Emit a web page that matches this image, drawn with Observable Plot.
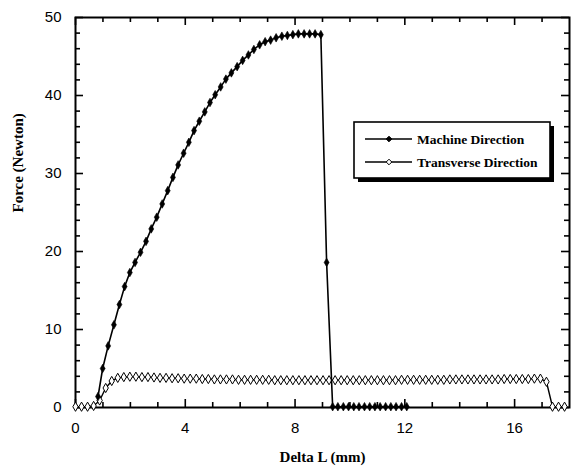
<!DOCTYPE html>
<html>
<head>
<meta charset="utf-8">
<script src="https://cdn.jsdelivr.net/npm/d3@7"></script>
<script src="https://cdn.jsdelivr.net/npm/@observablehq/plot@0.6"></script>
<style>
  html, body { margin: 0; padding: 0; background: white; }
  #chart { width: 571px; height: 472px; }
</style>
</head>
<body>
<div id="chart"></div>
<script>
// Machine Direction (filled diamonds)
const machineX = [0.82, 0.99, 1.19, 1.40, 1.60, 1.79, 1.98, 2.17, 2.37, 2.57, 2.76, 2.96, 3.16, 3.36, 3.55, 3.74, 3.94, 4.13, 4.32, 4.51, 4.71, 4.90, 5.09, 5.29, 5.48, 5.68, 5.89, 6.09, 6.30, 6.50, 6.71, 6.91, 7.11, 7.31, 7.52, 7.72, 7.92, 8.12, 8.33, 8.53, 8.73, 8.94, 9.15, 9.37, 9.56, 9.76, 9.95, 10.14, 10.33, 10.53, 10.72, 10.91, 11.10, 11.30, 11.49, 11.68, 11.88, 12.07];
const machineY = [1.4, 5.0, 7.9, 10.6, 13.2, 15.5, 17.3, 18.6, 19.9, 21.3, 22.9, 24.4, 26.1, 27.8, 29.5, 31.1, 32.6, 34.0, 35.5, 36.7, 37.9, 39.1, 40.1, 41.1, 42.1, 42.9, 43.7, 44.5, 45.2, 45.9, 46.5, 46.9, 47.1, 47.4, 47.6, 47.7, 47.8, 47.9, 47.9, 47.9, 47.9, 47.8, 18.6, 0.1, 0.1, 0.1, 0.1, 0.1, 0.1, 0.1, 0.1, 0.1, 0.1, 0.1, 0.1, 0.1, 0.1, 0.1];

// Transverse Direction (open diamonds)
const transX = [0.00, 0.22, 0.44, 0.66, 0.88, 1.10, 1.32, 1.54, 1.76, 1.98, 2.20, 2.42, 2.64, 2.86, 3.08, 3.30, 3.52, 3.74, 3.96, 4.18, 4.40, 4.62, 4.84, 5.06, 5.28, 5.50, 5.72, 5.94, 6.16, 6.38, 6.60, 6.82, 7.04, 7.26, 7.48, 7.70, 7.92, 8.14, 8.36, 8.58, 8.80, 9.02, 9.24, 9.46, 9.68, 9.90, 10.12, 10.34, 10.56, 10.78, 11.00, 11.22, 11.44, 11.66, 11.88, 12.10, 12.32, 12.54, 12.76, 12.98, 13.20, 13.42, 13.64, 13.86, 14.08, 14.30, 14.52, 14.74, 14.96, 15.18, 15.40, 15.62, 15.84, 16.06, 16.28, 16.50, 16.72, 16.94, 17.16, 17.38, 17.60, 17.82];
const transY = [0.1, 0.1, 0.1, 0.2, 0.9, 2.5, 3.4, 3.8, 3.9, 3.95, 3.95, 3.9, 3.9, 3.85, 3.8, 3.8, 3.75, 3.75, 3.7, 3.7, 3.7, 3.65, 3.65, 3.6, 3.6, 3.6, 3.6, 3.55, 3.55, 3.55, 3.55, 3.55, 3.55, 3.5, 3.5, 3.5, 3.5, 3.5, 3.5, 3.5, 3.5, 3.5, 3.5, 3.5, 3.5, 3.5, 3.5, 3.5, 3.5, 3.5, 3.5, 3.5, 3.5, 3.5, 3.55, 3.55, 3.55, 3.55, 3.55, 3.55, 3.55, 3.55, 3.6, 3.6, 3.6, 3.6, 3.6, 3.6, 3.6, 3.6, 3.6, 3.65, 3.65, 3.65, 3.65, 3.65, 3.7, 3.7, 3.3, 0.1, 0.1, 0.1];

// Axis ticks
const xTickLabels = [0, 4, 8, 12, 16];
const xMinorTicks = [1, 2, 3, 5, 6, 7, 9, 10, 11, 13, 14, 15, 17];
const yTickLabels = [0, 10, 20, 30, 40, 50];
const yMinorTicks = [2, 4, 6, 8, 12, 14, 16, 18, 22, 24, 26, 28, 32, 34, 36, 38, 42, 44, 46, 48];

const seriesNames = ["Machine Direction", "Transverse Direction"];

const machine = machineX.map((x, i) => ({x, y: machineY[i]}));
const trans = transX.map((x, i) => ({x, y: transY[i]}));

const W = 571, H = 472;
const mL = 75, mR = 2, mT = 17, mB = 65;
const PH = H - mT - mB, PW = W - mL - mR;
const major = 8, minor = 5;
const serif = "'Liberation Serif', 'Times New Roman', serif";

const chart = Plot.plot({
  width: W, height: H,
  marginLeft: mL, marginRight: mR, marginTop: mT, marginBottom: mB,
  x: {domain: [0, 18]},
  y: {domain: [0, 50]},
  style: {background: "white", color: "black", fontFamily: "'Liberation Sans', Arial, sans-serif", fontSize: "15px"},
  marks: [
    // inward ticks on all four sides
    Plot.tickX(xTickLabels, {x: d => d, insetTop: PH - major, stroke: "black", strokeWidth: 1.6}),
    Plot.tickX(xMinorTicks, {x: d => d, insetTop: PH - minor, stroke: "black", strokeWidth: 1.6}),
    Plot.tickX(xTickLabels, {x: d => d, insetBottom: PH - major, stroke: "black", strokeWidth: 1.6}),
    Plot.tickX(xMinorTicks, {x: d => d, insetBottom: PH - minor, stroke: "black", strokeWidth: 1.6}),
    Plot.tickY(yTickLabels, {y: d => d, insetRight: PW - major, stroke: "black", strokeWidth: 1.6}),
    Plot.tickY(yMinorTicks, {y: d => d, insetRight: PW - minor, stroke: "black", strokeWidth: 1.6}),
    Plot.tickY(yTickLabels, {y: d => d, insetLeft: PW - major, stroke: "black", strokeWidth: 1.6}),
    Plot.tickY(yMinorTicks, {y: d => d, insetLeft: PW - minor, stroke: "black", strokeWidth: 1.6}),
    Plot.axisX(xTickLabels, {tickSize: 0, tickPadding: 15, label: null, fontSize: 15}),
    Plot.axisY(yTickLabels, {tickSize: 0, tickPadding: 14, label: null, fontSize: 15}),
    Plot.frame({stroke: "black", strokeWidth: 2}),
    Plot.line(trans, {x: "x", y: "y", stroke: "black", strokeWidth: 1.4}),
    Plot.dot(trans, {x: "x", y: "y", symbol: "diamond", r: 2.8, fill: "white", stroke: "black", strokeWidth: 1}),
    Plot.line(machine, {x: "x", y: "y", stroke: "black", strokeWidth: 1.6}),
    Plot.dot(machine, {x: "x", y: "y", symbol: "diamond", r: 2.6, fill: "black", stroke: "black", strokeWidth: 0.6}),
    Plot.text(["Force (Newton)"], {frameAnchor: "left", dx: -57, rotate: -90, fontFamily: serif, fontWeight: "bold", fontSize: 15}),
    Plot.text(["Delta L (mm)"], {frameAnchor: "bottom", dy: 54, fontFamily: serif, fontWeight: "bold", fontSize: 15})
  ]
});

document.getElementById("chart").appendChild(chart);

// Legend with drop shadow
const svg = d3.select(chart);
const lg = svg.append("g").attr("text-anchor", "start");
const bx = 354, by = 122, bw = 196, bh = 56;
lg.append("rect").attr("x", bx + 4).attr("y", by + 4).attr("width", bw).attr("height", bh).attr("fill", "black");
lg.append("rect").attr("x", bx).attr("y", by).attr("width", bw).attr("height", bh).attr("fill", "white").attr("stroke", "black").attr("stroke-width", 1.6);
const rows = [
  {name: seriesNames[0], y: by + 17, fill: "black"},
  {name: seriesNames[1], y: by + 40, fill: "white"}
];
const diamond = d3.symbol(d3.symbolDiamond2, 20);
rows.forEach(r => {
  lg.append("line").attr("x1", bx + 11).attr("x2", bx + 58).attr("y1", r.y).attr("y2", r.y).attr("stroke", "black").attr("stroke-width", 1.4);
  lg.append("path").attr("d", diamond()).attr("transform", `translate(${bx + 35},${r.y})`).attr("fill", r.fill).attr("stroke", "black").attr("stroke-width", 1);
  lg.append("text").attr("x", bx + 63).attr("y", r.y).attr("dy", "0.35em").attr("text-anchor", "start")
    .attr("font-family", serif).attr("font-weight", "bold").attr("font-size", 13.5)
    .attr("fill", "black").text(r.name);
});
</script>
</body>
</html>
